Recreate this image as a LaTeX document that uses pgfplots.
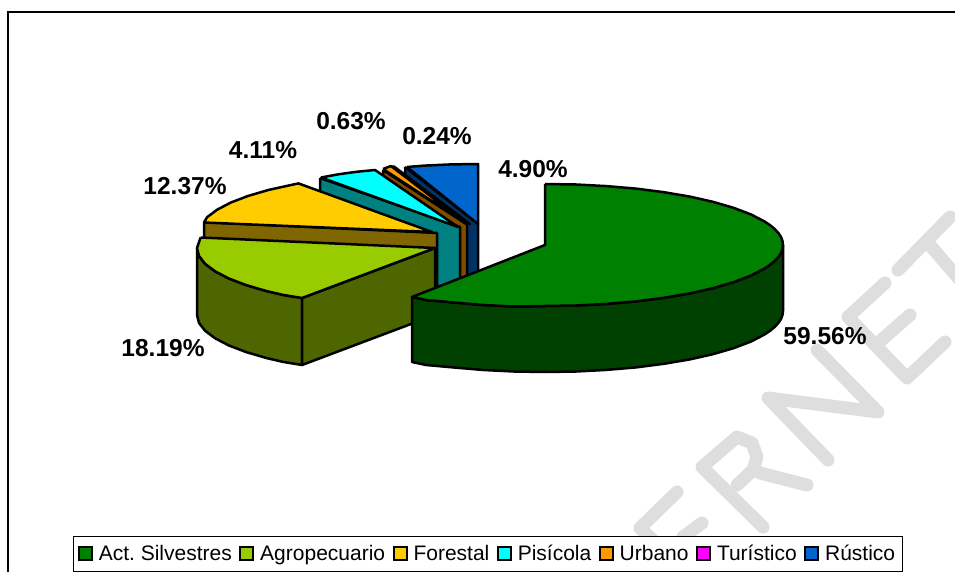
\documentclass[border=0pt]{standalone}
\usepackage{fontspec}
\setmainfont{Liberation Sans}
\usepackage{pgfplots}
\pgfplotsset{compat=1.18}
\frenchspacing
\definecolor{cGreen}{HTML}{008000}\definecolor{cGreenD}{HTML}{004000}
\definecolor{cLime}{HTML}{99CC00}\definecolor{cLimeD}{HTML}{4D6600}
\definecolor{cGold}{HTML}{FFCC00}\definecolor{cGoldD}{HTML}{806600}
\definecolor{cCyan}{HTML}{00FFFF}\definecolor{cCyanD}{HTML}{008080}
\definecolor{cOrange}{HTML}{FF9900}\definecolor{cOrangeD}{HTML}{804D00}
\definecolor{cMag}{HTML}{FF00FF}
\definecolor{cBlue}{HTML}{0066CC}\definecolor{cBlueD}{HTML}{003366}
\definecolor{cMark}{HTML}{DEDEDE}
\pgfplotsset{
  face/.style={forget plot,draw=black,line width=2.5pt,line join=round,fill=#1},
  wm/.style={forget plot,draw=cMark,line width=13pt,line cap=round,line join=round},
  sq/.style={legend image code/.code={\draw[fill=#1,draw=black,line width=1.8pt] (0pt,-6.5pt) rectangle (13pt,6.5pt);}},
}
\newcommand{\lab}{\fontsize{24.5}{28}\selectfont\bfseries}
\begin{document}
\begin{tikzpicture}
\begin{axis}[
  name=ax,
  width=955pt,height=572pt,scale only axis,
  xmin=0,xmax=955,ymin=0,ymax=572,y dir=reverse,
  axis lines=none,
  legend columns=-1,
  legend style={at={(axis cs:72.5,571.5)},anchor=south west,draw=black,line width=1pt,fill=white,
    font=\fontsize{21}{24}\selectfont,inner xsep=5pt,inner ysep=7pt,
    /tikz/every even column/.append style={column sep=5.6pt},
    /tikz/every odd column/.append style={column sep=4pt}},
]
\addlegendimage{sq=cGreen}\addlegendentry{Act. Silvestres}
\addlegendimage{sq=cLime}\addlegendentry{Agropecuario}
\addlegendimage{sq=cGold}\addlegendentry{Forestal}
\addlegendimage{sq=cCyan}\addlegendentry{Pisícola}
\addlegendimage{sq=cOrange}\addlegendentry{Urbano}
\addlegendimage{sq=cMag}\addlegendentry{Turístico}
\addlegendimage{sq=cBlue}\addlegendentry{Rústico\hspace{4.5pt}}
% watermark
\addplot[wm] coordinates {(898,270)(950,217)};
\addplot[wm] coordinates {(928,243)(960,280)};
\addplot[wm] coordinates {(885,283)(848,317)(907,378)(945,342)};
\addplot[wm] coordinates {(878,343)(910,315)};
\addplot[wm] coordinates {(828,460)(768,398)(878,412)(817,350)};
\addplot[wm] coordinates {(763,527)(702,467)(737,437)(752,443)(757,457)(753,470)(737,485)};
\addplot[wm] coordinates {(760,473)(807,485)};
\addplot[wm] coordinates {(677,492)(640,528)(670,556)};
\addplot[wm] coordinates {(683,537)(702,523)};
% frame
\addplot[forget plot,draw=black,line width=1.3pt] coordinates {(8,580)(8,12)(960,12)};
% Rustico
\addplot[face=cBlueD] coordinates {(405,167)(478,224)(478,290)(405,233)(405,167)};
\addplot[face=cBlue] coordinates {(407,167)(424.5,165.6)(451,164.4)(478,164)(478,224)(407,167)};
% Turistico
\addplot[face=cMag] coordinates {(391,167)(394,166.5)(470,224)(391,167)};
% Urbano
\addplot[face=cOrangeD] coordinates {(383,170)(467,224.5)(467,290)(383,236)(383,170)};
\addplot[face=cOrange] coordinates {(383,169)(391,166)(467,224)(383,169)};
% Piscicola
\addplot[face=cCyanD] coordinates {(320,178)(460,227)(460,295)(320,246)(320,178)};
\addplot[face=cCyan] coordinates {(321,177.5)(339,174.2)(357.4,171.7)(375,170)(458,227)(321,177.5)};
% Forestal
\addplot[face=cGoldD] coordinates {(204,222)(437,233)(437,300)(204,290)(204,222)};
\addplot[face=cGold] coordinates {(204,222.5)(207.1,217.2)(217.1,209.7)(230.9,202.5)(248.2,195.9)(268.7,189.9)(298.4,183.4)(432,232)(204,222.5)};
% Agropecuario
\addplot[face=cLimeD] coordinates {(302,298)(283,294.9)(266.7,291.1)(246.2,285.1)(228.9,278.5)(215.1,271.3)(205.1,263.8)(199,256)(197,248)
  (197,315)(199,323)(205.1,330.8)(215.1,338.3)(228.9,345.5)(246.2,352.1)(266.7,358.1)(283,361.9)(302,365)(302,298)};
\addplot[face=cLimeD] coordinates {(302,298)(435,248)(435,315)(302,365)(302,298)};
\addplot[face=cLime] coordinates {(200.6,237.5)(435,248)(302,298)(283,294.9)(266.7,291.1)(246.2,285.1)(228.9,278.5)(215.1,271.3)(205.1,263.8)(199,256)(197,248)(200.6,237.5)};
% Act. Silvestres
\addplot[face=cGreenD] coordinates {(783,245)(782.4,249.3)(781,253)(778.4,256.9)(774.9,260.8)(770,264.9)(764.9,268.3)(751.1,275.5)(733.8,282.1)(713.3,288.1)(689.9,293.4)(664,297.8)(636.1,301.4)(606.6,303.9)(576.1,305.5)(545,306)(513.9,306.5)(483.4,305)(453.9,302.5)(426,300)(412,297)
  (412,362)(426,365)(453.9,367.5)(483.4,370)(513.9,371.5)(545,372)(576.1,371.5)(606.6,369.9)(636.1,367.4)(664,363.8)(689.9,359.4)(713.3,354.1)(733.8,348.1)(751.1,341.5)(764.9,334.3)(770,330.9)(774.9,326.8)(778.4,322.9)(781,319)(782.4,315.3)(783,311)(783,245)};
\addplot[face=cGreen] coordinates {(545,184)(576.1,184.5)(606.6,186.1)(636.1,188.6)(664,192.2)(689.9,196.6)(713.3,201.9)(733.8,207.9)(751.1,214.5)(764.9,221.7)(770,225.1)(774.9,229.2)(778.4,233.1)(781,237)(782.4,240.7)(783,245)(782.4,249.3)(781,253)(778.4,256.9)(774.9,260.8)(770,264.9)(764.9,268.3)(751.1,275.5)(733.8,282.1)(713.3,288.1)(689.9,293.4)(664,297.8)(636.1,301.4)(606.6,303.9)(576.1,305.5)(545,306)(513.9,306.5)(483.4,305)(453.9,302.5)(426,300)(412,297)(545,245)(545,184)};
% labels
\node[inner sep=0pt,font=\lab] at (axis cs:825,336) {59.56\%};
\node[inner sep=0pt,font=\lab] at (axis cs:163,348) {18.19\%};
\node[inner sep=0pt,font=\lab] at (axis cs:185,186) {12.37\%};
\node[inner sep=0pt,font=\lab] at (axis cs:263,150) {4.11\%};
\node[inner sep=0pt,font=\lab] at (axis cs:351,121) {0.63\%};
\node[inner sep=0pt,font=\lab] at (axis cs:437,136) {0.24\%};
\node[inner sep=0pt,font=\lab] at (axis cs:533,169) {4.90\%};
\end{axis}
\pgfresetboundingbox
\useasboundingbox (ax.south west) rectangle (ax.north east);
\end{tikzpicture}
\end{document}
